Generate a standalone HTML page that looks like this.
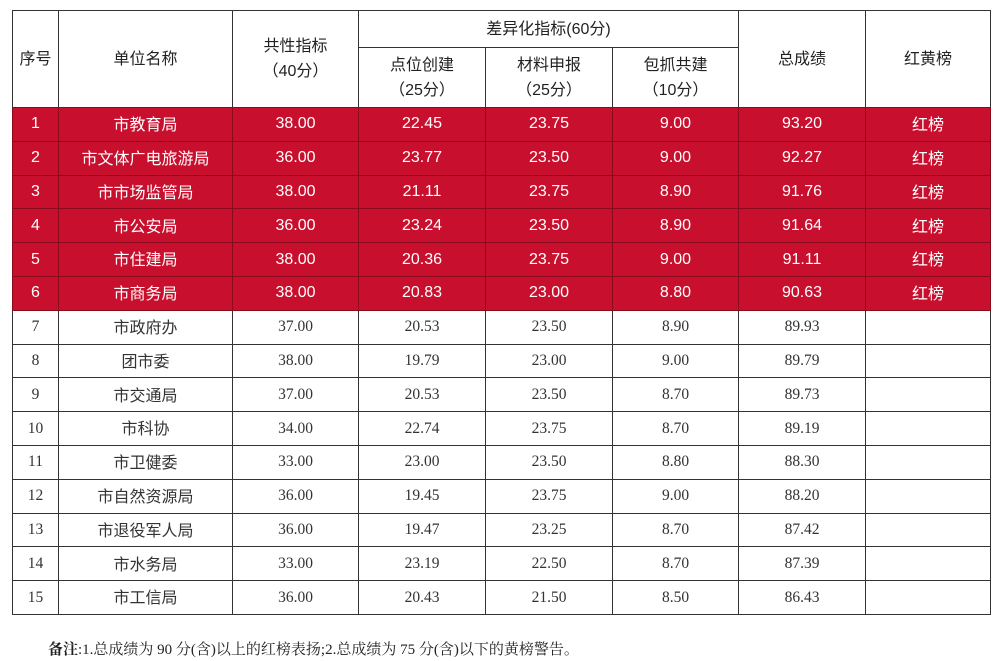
<!DOCTYPE html>
<html><head><meta charset="utf-8"><style>
body{margin:0;background:#fff;width:1000px;height:661px;overflow:hidden;font-family:"Liberation Sans","Noto Sans CJK SC",sans-serif;}
table{position:absolute;left:12px;top:10px;border-collapse:collapse;table-layout:fixed;}
td,th{border:1px solid #333;text-align:center;padding:0;font-size:15px;color:#222;vertical-align:middle;}
td{line-height:18px;}
td span{display:inline-block;line-height:18px;vertical-align:middle;position:relative;top:2px;}
th{font-weight:normal;line-height:25px;font-size:16px;}
tr.r td{background:#c8102e;color:#fff;border-color:#8a0a1e;font-size:16px;}
tr.n td{font-family:"Liberation Serif","Noto Serif CJK SC",serif;font-size:15.5px;color:#333;}
tr.n td.c{font-family:"Liberation Sans","Noto Sans CJK SC",sans-serif;font-size:16px;}
tr.d td{height:32.8px;}
.note{position:absolute;left:48px;top:638px;font-size:15px;font-family:"Liberation Serif","Noto Serif CJK SC",serif;color:#222;}
</style></head><body>
<table>
<colgroup><col style="width:46px"><col style="width:174px"><col style="width:126px"><col style="width:127px"><col style="width:127px"><col style="width:126px"><col style="width:127px"><col style="width:125px"></colgroup>
<tr style="height:37px"><th rowspan="2">序号</th><th rowspan="2">单位名称</th><th rowspan="2">共性指标<br>（40分）</th><th colspan="3">差异化指标(60分)</th><th rowspan="2">总成绩</th><th rowspan="2">红黄榜</th></tr>
<tr style="height:60px"><th>点位创建<br>（25分）</th><th>材料申报<br>（25分）</th><th>包抓共建<br>（10分）</th></tr>
<tr class="r d"><td>1</td><td><span>市教育局</span></td><td>38.00</td><td>22.45</td><td>23.75</td><td>9.00</td><td>93.20</td><td><span>红榜</span></td></tr>
<tr class="r d"><td>2</td><td><span>市文体广电旅游局</span></td><td>36.00</td><td>23.77</td><td>23.50</td><td>9.00</td><td>92.27</td><td><span>红榜</span></td></tr>
<tr class="r d"><td>3</td><td><span>市市场监管局</span></td><td>38.00</td><td>21.11</td><td>23.75</td><td>8.90</td><td>91.76</td><td><span>红榜</span></td></tr>
<tr class="r d"><td>4</td><td><span>市公安局</span></td><td>36.00</td><td>23.24</td><td>23.50</td><td>8.90</td><td>91.64</td><td><span>红榜</span></td></tr>
<tr class="r d"><td>5</td><td><span>市住建局</span></td><td>38.00</td><td>20.36</td><td>23.75</td><td>9.00</td><td>91.11</td><td><span>红榜</span></td></tr>
<tr class="r d"><td>6</td><td><span>市商务局</span></td><td>38.00</td><td>20.83</td><td>23.00</td><td>8.80</td><td>90.63</td><td><span>红榜</span></td></tr>
<tr class="n d"><td>7</td><td class="c"><span>市政府办</span></td><td>37.00</td><td>20.53</td><td>23.50</td><td>8.90</td><td>89.93</td><td></td></tr>
<tr class="n d"><td>8</td><td class="c"><span>团市委</span></td><td>38.00</td><td>19.79</td><td>23.00</td><td>9.00</td><td>89.79</td><td></td></tr>
<tr class="n d"><td>9</td><td class="c"><span>市交通局</span></td><td>37.00</td><td>20.53</td><td>23.50</td><td>8.70</td><td>89.73</td><td></td></tr>
<tr class="n d"><td>10</td><td class="c"><span>市科协</span></td><td>34.00</td><td>22.74</td><td>23.75</td><td>8.70</td><td>89.19</td><td></td></tr>
<tr class="n d"><td>11</td><td class="c"><span>市卫健委</span></td><td>33.00</td><td>23.00</td><td>23.50</td><td>8.80</td><td>88.30</td><td></td></tr>
<tr class="n d"><td>12</td><td class="c"><span>市自然资源局</span></td><td>36.00</td><td>19.45</td><td>23.75</td><td>9.00</td><td>88.20</td><td></td></tr>
<tr class="n d"><td>13</td><td class="c"><span>市退役军人局</span></td><td>36.00</td><td>19.47</td><td>23.25</td><td>8.70</td><td>87.42</td><td></td></tr>
<tr class="n d"><td>14</td><td class="c"><span>市水务局</span></td><td>33.00</td><td>23.19</td><td>22.50</td><td>8.70</td><td>87.39</td><td></td></tr>
<tr class="n d"><td>15</td><td class="c"><span>市工信局</span></td><td>36.00</td><td>20.43</td><td>21.50</td><td>8.50</td><td>86.43</td><td></td></tr>
</table>
<div class="note"><b>备注</b>:1.总成绩为 90 分(含)以上的红榜表扬;2.总成绩为 75 分(含)以下的黄榜警告。</div>
</body></html>
